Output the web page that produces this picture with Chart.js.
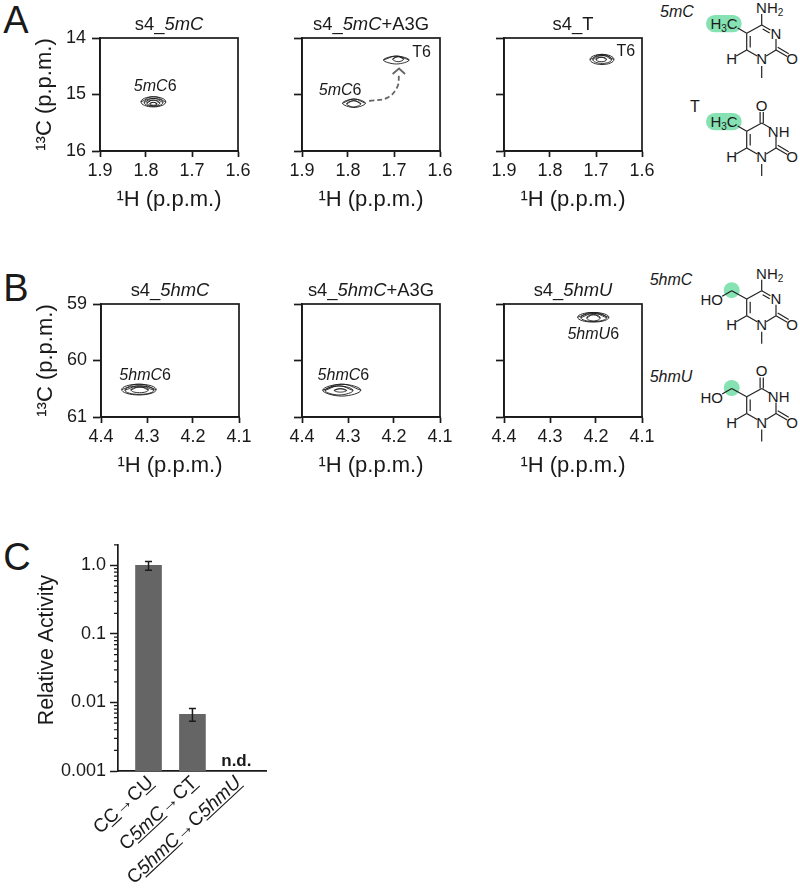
<!DOCTYPE html>
<html><head><meta charset="utf-8">
<script src="https://cdn.jsdelivr.net/npm/chart.js@4"></script>
<style>
html,body{margin:0;padding:0;background:#fff;width:800px;height:889px;overflow:hidden}
body{position:relative;font-family:"Liberation Sans",Arial,sans-serif;color:#1a1a1a}
canvas{position:absolute}
.lt{position:absolute;font-size:38px;line-height:38px;transform:translate(-50%,-50%)}
.nm{position:absolute;font-size:16px;line-height:18px;transform:translate(-50%,-50%);white-space:nowrap}
svg{position:absolute;left:0;top:0}
</style></head><body>
<div class="lt" style="left:16px;top:20px">A</div>
<div class="lt" style="left:16px;top:288px">B</div>
<div class="lt" style="left:17px;top:557px">C</div>
<div class="nm" style="left:677px;top:12px"><i>5mC</i></div>
<div class="nm" style="left:695px;top:107px">T</div>
<div class="nm" style="left:671px;top:280px"><i>5hmC</i></div>
<div class="nm" style="left:671px;top:377px"><i>5hmU</i></div>
<svg id="st" width="800" height="889"></svg>
<script>
// ---- axis ticks
const xTicksA = [1.9, 1.8, 1.7, 1.6];
const yTicksA = [14, 15, 16];
const xTicksB = [4.4, 4.3, 4.2, 4.1];
const yTicksB = [59, 60, 61];
const yLabelsC = [[1, '1.0'], [0.1, '0.1'], [0.01, '0.01'], [0.001, '0.001']];

// ---- contour extents: [1H left, 1H right, 13C top, 13C bottom]
const peakA1 = [[1.811, 1.757, 15.04, 15.22], [1.804, 1.763, 15.07, 15.21], [1.798, 1.770, 15.10, 15.20], [1.792, 1.776, 15.14, 15.19]];
const peakA2mC = [[1.812, 1.762, 15.08, 15.23], [1.803, 1.772, 15.11, 15.22]];
const peakA2T = [[1.723, 1.667, 14.32, 14.46], [1.703, 1.679, 14.33, 14.42]];
const peakA3 = [[1.713, 1.661, 14.29, 14.47], [1.707, 1.666, 14.31, 14.45], [1.700, 1.677, 14.34, 14.42]];
const peakB1 = [[4.355, 4.280, 60.42, 60.61], [4.348, 4.285, 60.45, 60.60], [4.335, 4.297, 60.47, 60.57]];
const peakB2 = [[4.355, 4.272, 60.42, 60.63], [4.350, 4.289, 60.45, 60.61], [4.330, 4.303, 60.50, 60.56]];
const peakB3 = [[4.240, 4.172, 59.15, 59.32], [4.233, 4.177, 59.17, 59.31], [4.220, 4.191, 59.19, 59.30]];
const arrowPath = [[1.754, 15.115], [1.715, 15.06], [1.693, 14.87], [1.689, 14.64]];
const arrowHead = [[1.703, 14.637], [1.689, 14.54], [1.676, 14.637]];

// ---- bar chart
const categoriesC = [
  [['C', ''], ['C', 'u'], ['→', 'a'], ['C', ''], ['U', 'u']],
  [['C', ''], ['5mC', 'iu'], ['→', 'a'], ['C', ''], ['T', 'u']],
  [['C', ''], ['5hmC', 'iu'], ['→', 'a'], ['C', ''], ['5hmU', 'iu']]
];
const valuesC = [1.0, 0.0067, null];
const errLowC = [0.85, 0.0053, null];
const errHighC = [1.14, 0.0082, null];
const noteC = ['', '', 'n.d.'];

const INK = '#1a1a1a', FONT = '"Liberation Sans", Arial, sans-serif';

function drawRich(ctx, segs, x, y, size, rot, align) {
  ctx.save();
  ctx.translate(x, y);
  if (rot) ctx.rotate(rot);
  ctx.textBaseline = 'alphabetic'; ctx.textAlign = 'left'; ctx.fillStyle = INK; ctx.strokeStyle = INK;
  const fontOf = s => (s.includes('i') ? 'italic ' : '') + size + 'px ' + FONT;
  let w = 0;
  segs.forEach(([t, s]) => { ctx.font = fontOf(s); w += ctx.measureText(t).width; });
  let cx = align === 'right' ? -w : -w / 2;
  const by = size * 0.36;
  segs.forEach(([t, s]) => {
    ctx.font = fontOf(s);
    const tw = ctx.measureText(t).width;
    ctx.fillText(t, cx, by);
    if (s.includes('u')) { ctx.lineWidth = 1.1; ctx.beginPath(); ctx.moveTo(cx, by + 2.5); ctx.lineTo(cx + tw, by + 2.5); ctx.stroke(); }
    cx += tw;
  });
  ctx.restore();
}

function ring(c) {
  const [l, r, t, b] = c, my = (t + b) / 2, mx = (l + r) / 2;
  return [{x: l, y: my}, {x: mx, y: t}, {x: r, y: my}, {x: mx, y: b}, {x: l, y: my}, {x: mx, y: t}, {x: r, y: my}];
}
function contourSets(peaks, tension) {
  return peaks.flatMap(p => p.map(c => ({
    data: ring(c), showLine: true, tension, borderColor: '#1a1a1a', borderWidth: 0.9, pointRadius: 0, fill: false
  })));
}

function nmrPanel(cfg) {
  const cv = document.createElement('canvas');
  cv.width = cfg.w; cv.height = cfg.h;
  cv.style.left = cfg.left + 'px'; cv.style.top = cfg.top + 'px';
  document.body.appendChild(cv);
  const extra = cfg.extra || [];
  new Chart(cv, {
    type: 'scatter',
    data: {datasets: contourSets(cfg.peaks, cfg.tension || 0.55).concat(extra)},
    options: {
      responsive: false, animation: false, devicePixelRatio: 1,
      layout: {padding: {top: cfg.pt, right: cfg.pr, left: 0, bottom: 0}},
      plugins: {legend: {display: false}, tooltip: {enabled: false}},
      scales: {
        x: {
          type: 'linear', reverse: true, min: Math.min(...cfg.xt), max: Math.max(...cfg.xt),
          afterBuildTicks: s => { s.ticks = cfg.xt.map(v => ({value: v})); },
          afterFit: s => { s.height = cfg.h - cfg.pt - 113; },
          grid: {drawOnChartArea: false, tickLength: 6, tickWidth: 1.7, tickColor: INK},
          border: {display: true, color: INK, width: 1.7},
          ticks: {autoSkip: false, maxRotation: 0, padding: 3, color: INK, font: {family: FONT, size: 18}, callback: v => v.toFixed(1)},
          title: {display: true, text: '¹H (p.p.m.)', color: INK, font: {family: FONT, size: 22}, padding: {top: 0, bottom: cfg.tb}}
        },
        y: {
          type: 'linear', reverse: true, min: Math.min(...cfg.yt), max: Math.max(...cfg.yt),
          afterBuildTicks: s => { s.ticks = cfg.yt.map(v => ({value: v})); },
          afterFit: s => { s.width = cfg.yw; },
          grid: {drawOnChartArea: false, tickLength: 8, tickWidth: 1.7, tickColor: INK},
          border: {display: true, color: INK, width: 1.7},
          ticks: {display: !!cfg.yTitle, autoSkip: false, padding: 6, color: INK, font: {family: FONT, size: 18}},
          title: {display: !!cfg.yTitle, text: '¹³C (p.p.m.)', color: INK, font: {family: FONT, size: 22}, padding: {top: 32, bottom: 0}}
        }
      }
    },
    plugins: [{
      id: 'panelDecor',
      afterDraw(ch) {
        const c = ch.ctx, a = ch.chartArea, sx = ch.scales.x, sy = ch.scales.y;
        c.save(); c.strokeStyle = INK; c.lineWidth = 1.7;
        c.strokeRect(a.left, a.top, a.right - a.left, a.bottom - a.top); c.restore();
        drawRich(c, cfg.title, (a.left + a.right) / 2, a.top - 15, 18.4);
        (cfg.notes || []).forEach(n => drawRich(c, n.segs, sx.getPixelForValue(n.x), sy.getPixelForValue(n.y), 16));
      }
    }]
  });
}

const arrowSets = [
  {data: arrowPath.map(([x, y]) => ({x, y})), showLine: true, tension: 0.4, borderColor: '#666', borderWidth: 1.8, borderDash: [5, 3], pointRadius: 0},
  {data: arrowHead.map(([x, y]) => ({x, y})), showLine: true, tension: 0, borderColor: '#666', borderWidth: 1.8, pointRadius: 0}
];

const Y0A = {yt: yTicksA, xt: xTicksA, top: 0, pt: 38, h: 240, tb: 27};
const Y0B = {yt: yTicksB, xt: xTicksB, top: 266, pt: 38, h: 240, tb: 27};
nmrPanel({...Y0A, left: 0, w: 262, pr: 24, yw: 100, yTitle: true, peaks: [peakA1], title: [['s4_', ''], ['5mC', 'i']],
  notes: [{segs: [['5mC', 'i'], ['6', '']], x: 1.780, y: 14.83}]});
nmrPanel({...Y0A, left: 272, w: 192, pr: 24, yw: 30, tension: 0.4, peaks: [peakA2mC, peakA2T], extra: arrowSets, title: [['s4_', ''], ['5mC', 'i'], ['+A3G', '']],
  notes: [{segs: [['5mC', 'i'], ['6', '']], x: 1.817, y: 14.91}, {segs: [['T6', '']], x: 1.640, y: 14.24}]});
nmrPanel({...Y0A, left: 474, w: 192, pr: 24, yw: 30, peaks: [peakA3], title: [['s4_T', '']],
  notes: [{segs: [['T6', '']], x: 1.635, y: 14.21}]});
nmrPanel({...Y0B, left: 1, w: 262, pr: 24, yw: 100, yTitle: true, peaks: [peakB1], title: [['s4_', ''], ['5hmC', 'i']],
  notes: [{segs: [['5hmC', 'i'], ['6', '']], x: 4.304, y: 60.24}]});
nmrPanel({...Y0B, left: 272, w: 192, pr: 24, yw: 30, tension: 0.45, peaks: [peakB2], title: [['s4_', ''], ['5hmC', 'i'], ['+A3G', '']],
  notes: [{segs: [['5hmC', 'i'], ['6', '']], x: 4.310, y: 60.24}]});
nmrPanel({...Y0B, left: 474, w: 192, pr: 24, yw: 30, peaks: [peakB3], title: [['s4_', ''], ['5hmU', 'i']],
  notes: [{segs: [['5hmU', 'i'], ['6', '']], x: 4.206, y: 59.51}]});

// ---- panel C
(function () {
  const cv = document.createElement('canvas');
  cv.width = 300; cv.height = 359; cv.style.left = '0px'; cv.style.top = '530px';
  document.body.appendChild(cv);
  new Chart(cv, {
    type: 'bar',
    data: {datasets: [{
      data: valuesC.map((v, i) => ({x: i, y: v})),
      backgroundColor: '#656565', borderWidth: 0, barThickness: 26
    }]},
    options: {
      responsive: false, animation: false, devicePixelRatio: 1,
      layout: {padding: {top: 12, right: 34, left: 0, bottom: 0}},
      plugins: {legend: {display: false}, tooltip: {enabled: false}},
      scales: {
        x: {
          type: 'linear', offset: false, min: -0.695, max: 2.675,
          afterFit: s => { s.height = 118; },
          grid: {display: false, drawTicks: false},
          border: {display: true, color: INK, width: 1.7},
          ticks: {display: false}
        },
        y: {
          type: 'logarithmic', min: 0.001, max: 2,
          afterBuildTicks: s => { s.ticks = yLabelsC.map(([v]) => ({value: v})); },
          afterFit: s => { s.width = 118; },
          grid: {drawOnChartArea: false, tickLength: 8, tickWidth: 1.5, tickColor: INK},
          border: {display: true, color: INK, width: 1.7},
          ticks: {autoSkip: false, padding: 4, color: INK, font: {family: FONT, size: 18},
            callback: v => { const m = yLabelsC.find(([t]) => Math.abs(t - v) < t * 1e-6); return m ? m[1] : ''; }}
        }
      }
    },
    plugins: [{
      id: 'panelC',
      afterDraw(ch) {
        const c = ch.ctx, a = ch.chartArea, sx = ch.scales.x, sy = ch.scales.y;
        c.save(); c.strokeStyle = INK; c.lineWidth = 1.2; c.beginPath();
        [0.001, 0.01, 0.1, 1].forEach(d => { for (let m = 2; m <= 9; m++) { const v = d * m; if (v <= 2) { const p = sy.getPixelForValue(v); c.moveTo(a.left - 4, p); c.lineTo(a.left, p); } } });
        c.stroke();
        c.lineWidth = 1.5; c.beginPath();
        valuesC.forEach((v, i) => {
          if (v == null) return;
          const px = sx.getPixelForValue(i), lo = sy.getPixelForValue(errLowC[i]), hi = sy.getPixelForValue(errHighC[i]);
          c.moveTo(px, lo); c.lineTo(px, hi);
          c.moveTo(px - 3.5, lo); c.lineTo(px + 3.5, lo);
          c.moveTo(px - 3.5, hi); c.lineTo(px + 3.5, hi);
        });
        c.stroke();
        c.fillStyle = INK; c.textAlign = 'center'; c.textBaseline = 'middle'; c.font = 'bold 17px ' + FONT;
        noteC.forEach((t, i) => { if (t) c.fillText(t, sx.getPixelForValue(i), a.bottom - 10); });
        c.restore();
        drawRich(c, [['Relative Activity', '']], 45, 120, 21.3, -Math.PI / 2);
        categoriesC.forEach((segs, i) => drawRich(c, segs, sx.getPixelForValue(i) + 1, a.bottom + 8, 19, -43 * Math.PI / 180, 'right'));
      }
    }]
  });
})();

// ---- chemical structures
(function () {
  const svg = document.getElementById('st');
  let out = '';
  const ln = (o, a, b, c, d) => `<line x1="${o[0] + a}" y1="${o[1] + b}" x2="${o[0] + c}" y2="${o[1] + d}" stroke="#222" stroke-width="1.2"/>`;
  const tx = (o, x, y, html) => `<text x="${o[0] + x}" y="${o[1] + y + 5.3}" text-anchor="middle" font-family="Liberation Sans" font-size="15" fill="#1a1a1a">${html}</text>`;
  const sub = n => `<tspan font-size="10" dy="3">${n}</tspan>`;
  function draw(o, isUracil, isHm) {
    if (isHm) out += `<circle cx="${o[0] - 30}" cy="${o[1] - 0.5}" r="8" fill="#86e2b3"/>`;
    else out += `<rect x="${o[0] - 55.7}" y="${o[1] - 10}" width="35.7" height="17.3" rx="8.6" fill="#86e2b3"/>`;
    out += ln(o, -15, 8.3, 0, 0) + ln(o, -15, 25, -15, 8.3) + ln(o, -11.5, 22.5, -11.5, 11);
    out += ln(o, 14.3, 25, 14.3, 14) + ln(o, 14.3, 25, 4.5, 31) + ln(o, -4.5, 31, -15, 25);
    out += ln(o, 14.3, 25, 25.5, 31.5) + ln(o, 16, 22.3, 27, 28.8);
    out += ln(o, -15, 25, -25.5, 31) + ln(o, 0, 41, 0, 53);
    out += ln(o, 0, 0, 8.7, 5);
    out += tx(o, 0, 33.7, 'N') + tx(o, 30.5, 34, 'O') + tx(o, -30, 34, 'H');
    if (isUracil) {
      out += ln(o, -1.6, 0, -1.6, -11) + ln(o, 1.6, 0, 1.6, -11);
      out += tx(o, 0, -17.5, 'O') + tx(o, 17, 8.3, 'NH');
    } else {
      out += ln(o, 0, 0, 0, -11) + ln(o, 1, 4, 8, 8);
      out += tx(o, 8, -17.5, 'NH' + sub(2)) + tx(o, 14.3, 8.3, 'N');
    }
    if (isHm) {
      out += ln(o, -15, 8.3, -30, 0) + ln(o, -30, 0, -39.5, 5.5);
      out += tx(o, -50, 9, 'HO');
    } else {
      out += ln(o, -15, 8.3, -24, 3);
      out += tx(o, -37.7, -1, 'H' + sub(3) + '<tspan dy="-3">C</tspan>');
    }
  }
  draw([761.7, 25], false, false);
  draw([761.7, 123], true, false);
  draw([761.7, 290.7], false, true);
  draw([761.7, 388.5], true, true);
  svg.innerHTML = out;
})();
</script>
</body></html>
